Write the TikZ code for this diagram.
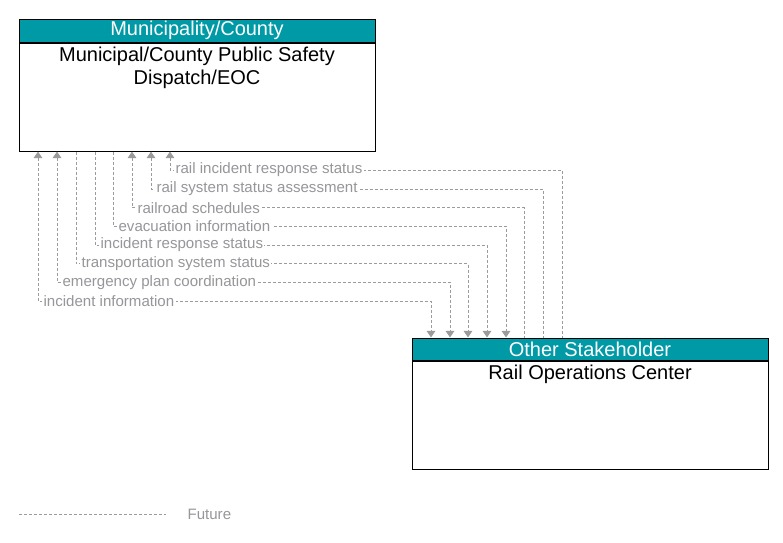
\documentclass[tikz,border=0pt]{standalone}
\usepackage{fontspec}
\setmainfont{Liberation Sans}
\usetikzlibrary{positioning,arrows.meta}
\definecolor{hdrteal}{RGB}{0,153,166}
\definecolor{flowgray}{RGB}{155,155,155}
\definecolor{lblgray}{RGB}{150,150,155}
\tikzset{
  hdr/.style={draw=black,fill=hdrteal,text=white,minimum width=267pt,
    minimum height=17.25pt,inner sep=0pt,line width=0.75pt,
    font=\fontsize{15}{17.25}\selectfont},
  bodybox/.style={draw=black,minimum width=267pt,minimum height=81pt,
    inner sep=0pt,line width=0.75pt},
  bodytxt/.style={align=center,inner sep=1pt,
    font=\fontsize{15}{17.25}\selectfont},
  flow/.style={draw=flowgray,line width=0.75pt,dash pattern=on 2.25pt off 1.5pt,
    >={Triangle[length=5pt,width=6.5pt]}},
  flowlbl/.style={anchor=west,fill=white,text=lblgray,inner xsep=1pt,
    inner ysep=0.5pt,font=\fontsize{11.3}{13}\selectfont},
  tipB/.style={<->},
  tipD/.style={->},
  tipU/.style={<-}
}
\begin{document}
\begin{tikzpicture}[x=0.75pt,y=-0.75pt]
  \useasboundingbox (0,0) rectangle (783,543);
  % Municipality/County
  \node[hdr] (mhdr) at (197,30.5) {Municipality/County};
  \node[bodybox,below=0pt of mhdr] (mdisp) {};
  \node[bodytxt,below=2.5pt of mhdr] (mdispt) {Municipal/County Public Safety\\Dispatch/EOC};
  % Other Stakeholder
  \node[hdr,minimum height=16.5pt] (rhdr) at (590,349) {Other Stakeholder};
  \node[bodybox,below=0pt of rhdr] (roc) {};
  \node[bodytxt,below=2.5pt of rhdr] (roct) {Rail Operations Center};
  % flows
  \foreach \tx/\bx/\y/\lbl/\tip [count=\i] in {
      38/431/301/incident information/tipB,
      57/450/282.3/emergency plan coordination/tipB,
      76/468/263.7/transportation system status/tipD,
      95/487/245/incident response status/tipD,
      113/506/226/evacuation information/tipD,
      132/524/207.7/railroad schedules/tipU,
      151/543/189/rail system status assessment/tipU,
      170/562/170/rail incident response status/tipU} {
    \draw[flow,\tip] (\tx,0 |- mdisp.south) -- (\tx,\y) -- (\bx,\y) -- (\bx,0 |- rhdr.north);
    \node[flowlbl] (f\i) at (\tx+4,\y) {\lbl};
  }
  % legend
  \coordinate (lgA) at (19,514);
  \coordinate (lgB) at (166,514);
  \draw[flow] (lgA) -- (lgB);
  \node[flowlbl,fill=none] (lgtxt) at (186,514) {Future};
\end{tikzpicture}
\end{document}
